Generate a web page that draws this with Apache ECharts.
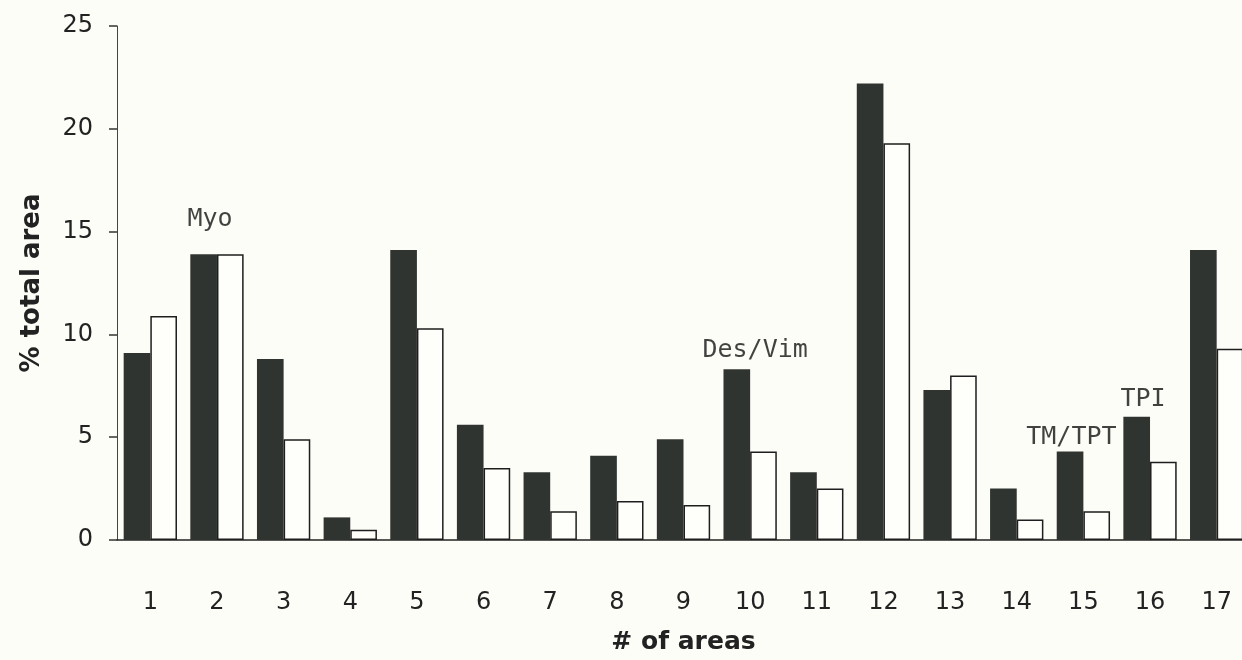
<!DOCTYPE html>
<html>
<head>
<meta charset="utf-8">
<script src="https://cdn.jsdelivr.net/npm/echarts@6/dist/echarts.min.js"></script>
<style>
  html, body { margin: 0; padding: 0; background: #fdfdf8; overflow: hidden; }
  /* a little wider than the window: the last open bar runs off the page, as in the scan */
  #chart { width: 1250px; height: 660px; }
</style>
</head>
<body>
<div id="chart"></div>
<script>
// # of areas
var categories = ['1', '2', '3', '4', '5', '6', '7', '8', '9', '10', '11', '12', '13', '14', '15', '16', '17']
// % total area, filled bars
var darkValues = [9.1, 13.9, 8.8, 1.1, 14.1, 5.6, 3.3, 4.1, 4.9, 8.3, 3.3, 22.2, 7.3, 2.5, 4.3, 6.0, 14.1]
// % total area, open bars
var openValues = [10.9, 13.9, 4.9, 0.5, 10.3, 3.5, 1.4, 1.9, 1.7, 4.3, 2.5, 19.3, 8.0, 1.0, 1.4, 3.8, 9.3]
// protein names written over the bars
var noteNames = ['Myo', 'Des/Vim', 'TM/TPT', 'TPI']
var noteCategories = ['2', '10', '15', '16']
var noteLevels = [15.6, 9.2, 5.0, 6.85]
var noteShift = [-7, 5, -12, -7]

var chart = echarts.init(document.getElementById('chart'))

var notes = noteNames.map(function (name, i) {
  return {
    name: name,
    value: [noteCategories[i], noteLevels[i]],
    label: { offset: [noteShift[i], 0] }
  }
})

chart.setOption({
  backgroundColor: '#fdfdf8',
  animation: false,
  grid: {
    left: 117,
    right: 0,
    top: 26,
    bottom: 119
  },
  xAxis: {
    type: 'category',
    data: categories,
    name: '# of areas',
    nameLocation: 'middle',
    nameGap: 90,
    nameTextStyle: {
      fontFamily: 'DejaVu Sans',
      fontWeight: 'bold',
      fontSize: 25,
      color: '#222'
    },
    axisLine: { lineStyle: { color: '#222', width: 1.5 } },
    axisTick: { length: 5, lineStyle: { color: '#555' } },
    axisLabel: {
      margin: 51,
      fontFamily: 'DejaVu Sans',
      fontSize: 24,
      color: '#222'
    }
  },
  yAxis: {
    type: 'value',
    min: 0,
    max: 25,
    interval: 5,
    name: '% total area',
    nameLocation: 'middle',
    nameGap: 72,
    nameTextStyle: {
      fontFamily: 'DejaVu Sans',
      fontWeight: 'bold',
      fontSize: 26,
      color: '#222'
    },
    axisLine: { show: true, lineStyle: { color: '#444', width: 1 } },
    axisTick: { show: true, length: 8, lineStyle: { color: '#333', width: 1.5 } },
    splitLine: { show: false },
    axisLabel: {
      margin: 24,
      fontFamily: 'DejaVu Sans',
      fontSize: 24,
      color: '#222'
    }
  },
  series: [
    {
      name: 'filled',
      type: 'bar',
      data: darkValues,
      barGap: '0%',
      barCategoryGap: '20%',
      itemStyle: { color: '#303431' }
    },
    {
      name: 'open',
      type: 'bar',
      data: openValues,
      barGap: '0%',
      barCategoryGap: '20%',
      itemStyle: { color: '#fefefb', borderColor: '#1e1e1e', borderWidth: 1.5 }
    },
    {
      name: 'notes',
      type: 'scatter',
      data: notes,
      symbolSize: 1,
      itemStyle: { color: 'rgba(0,0,0,0)' },
      label: {
        show: true,
        position: 'inside',
        formatter: '{b}',
        fontFamily: 'DejaVu Sans Mono',
        fontSize: 25,
        color: '#111'
      },
      z: 5
    }
  ]
})
</script>
</body>
</html>
